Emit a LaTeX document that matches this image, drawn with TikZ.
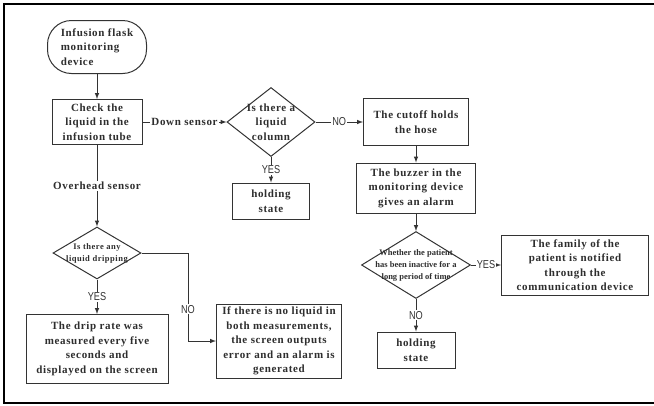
\documentclass[tikz,border=0pt]{standalone}
\usepackage{fontspec}
\setmainfont{Liberation Serif}[LetterSpace=6]
\newfontfamily\plainserif{Liberation Serif}
\newfontfamily\yesnofont{Liberation Sans}[FakeStretch=0.8]
\usepackage{tikz}
\usetikzlibrary{arrows,shapes.geometric}
\definecolor{linegray}{rgb}{0.2,0.2,0.2}
\definecolor{textgray}{rgb}{0.18,0.18,0.18}
\tikzset{
  procbox/.style={draw=linegray, line width=1pt, fill=white, align=center,
    inner sep=1pt, text=textgray, font=\bfseries\fontsize{11}{14.5}\selectfont},
  startbox/.style={procbox, rounded corners=24pt, align=left},
  decision/.style={diamond, draw=linegray, line width=1pt, inner sep=0pt},
  dtext/.style={align=center, inner sep=0pt, text=textgray},
  flow/.style={->, >=latex, line width=1pt, draw=linegray},
  yesno/.style={fill=white, inner sep=1pt, text=linegray,
    font=\yesnofont\fontsize{11.5}{13}\selectfont},
  sensor/.style={fill=white, inner sep=1pt, text=textgray,
    font=\bfseries\fontsize{11}{13}\selectfont}
}
\begin{document}
\begin{tikzpicture}[x=1pt,y=-1pt]
\useasboundingbox (0,0) rectangle (654,405);
\draw[line width=2.2pt] (654,4) -- (4,4) -- (4,403) -- (654,403);
% left column
\node[startbox, minimum width=99pt, minimum height=53pt] (start) at (97,47) {Infusion flask\\monitoring\\device};
\node[procbox, minimum width=90pt, minimum height=45pt] (check) at (97,122) {Check the\\liquid in the\\infusion tube};
\node[decision, minimum width=88pt, minimum height=52pt] (d2) at (97,253) {};
\node[dtext, font=\bfseries\fontsize{8.5}{12}\selectfont] (d2text) at (d2) {Is there any\\liquid dripping};
\node[procbox, minimum width=142pt, minimum height=69pt] (drip) at (97,349) {The drip rate was\\measured every five\\seconds and\\displayed on the screen};
\node[procbox, minimum width=125pt, minimum height=74pt] (error) at (279,341) {If there is no liquid in\\both measurements,\\the screen outputs\\error and an alarm is\\generated};
\coordinate (nobend) at (188,341);
% middle column
\node[decision, minimum width=88pt, minimum height=69pt] (d1) at (271,122) {};
\node[dtext, font=\bfseries\fontsize{11}{14.5}\selectfont] (d1text) at (d1) {Is there a\\liquid\\column};
\node[procbox, minimum width=77pt, minimum height=36pt] (hold1) at (271,201) {holding\\state};
% right column
\node[procbox, minimum width=105pt, minimum height=47pt] (cut) at (416,122) {The cutoff holds\\the hose};
\node[procbox, minimum width=119pt, minimum height=50pt] (buzz) at (416,188) {The buzzer in the\\monitoring device\\gives an alarm};
\node[decision, minimum width=109pt, minimum height=67pt] (d3) at (416,265) {};
\node[dtext, font=\plainserif\bfseries\fontsize{8.5}{12}\selectfont] (d3text) at (d3) {Whether the patient\\has been inactive for a\\long period of time};
\node[procbox, minimum width=78pt, minimum height=36pt] (hold2) at (416,350) {holding\\state};
\node[procbox, minimum width=147pt, minimum height=60pt] (family) at (575,265) {The family of the\\patient is notified\\through the\\communication device};
% connectors
\draw[flow] (start) -- (check);
\draw[flow] (check) -- node[sensor]{Down sensor} (d1);
\draw[flow] (check) -- node[sensor]{Overhead sensor} (d2);
\draw[flow] (d2) -- node[yesno]{YES} (drip);
\draw[flow] (d2.east) -| node[yesno, pos=0.82]{NO} (nobend) -- (error.west);
\draw[flow] (d1) -- node[yesno]{YES} (hold1);
\draw[flow] (d1) -- node[yesno]{NO} (cut);
\draw[flow] (cut) -- (buzz);
\draw[flow] (buzz) -- (d3);
\draw[flow] (d3) -- node[yesno]{YES} (family);
\draw[flow] (d3) -- node[yesno]{NO} (hold2);
\end{tikzpicture}
\end{document}
